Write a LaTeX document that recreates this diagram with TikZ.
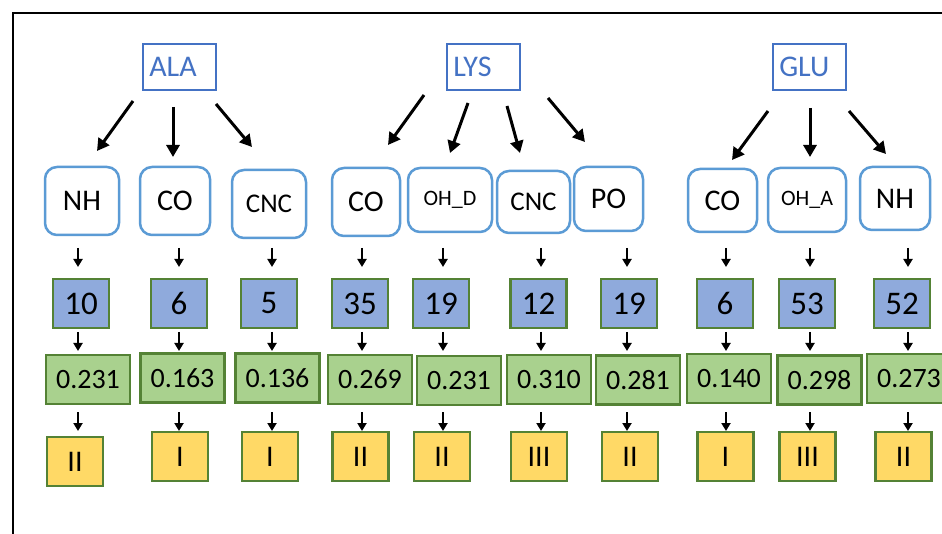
\documentclass[tikz,border=0pt]{standalone}
\usepackage{fontspec}
\setmainfont{Carlito}
\usetikzlibrary{arrows.meta}
\definecolor{topblue}{HTML}{4472C4}
\definecolor{roundblue}{HTML}{5B9BD5}
\definecolor{numfill}{HTML}{8FAADC}
\definecolor{valfill}{HTML}{A9D18E}
\definecolor{romfill}{HTML}{FFD966}
\definecolor{boxgreen}{HTML}{548235}
\tikzset{
  topbox/.style={draw=topblue, line width=1.5pt, text=topblue, minimum height=46pt,
    text width=60pt, align=left, inner xsep=6.5pt, font=\fontsize{30}{34}\selectfont},
  grpbox/.style={draw=roundblue, line width=2.5pt, fill=white, rounded corners=12pt,
    inner sep=0pt},
  bigtxt/.style={font=\fontsize{30}{34}\selectfont},
  midtxt/.style={font=\fontsize{27}{31}\selectfont},
  smltxt/.style={font=\fontsize{22}{26}\selectfont},
  numbox/.style={fill=numfill, draw=boxgreen, line width=2.5pt, minimum width=56pt,
    minimum height=49pt, inner sep=0pt, font=\fontsize{33}{36}\selectfont},
  valbox/.style={fill=valfill, draw=boxgreen, line width=2.5pt, minimum width=84pt,
    minimum height=49pt, inner sep=0pt, font=\fontsize{28}{32}\selectfont},
  rombox/.style={fill=romfill, draw=boxgreen, line width=2.5pt, minimum width=56pt,
    minimum height=49pt, inner sep=0pt, font=\fontsize{30}{34}\selectfont},
  bigarrow/.style={line width=3pt, -{Triangle[length=12pt,width=13pt]}},
  smallarrow/.style={line width=2pt, -{Triangle[length=8pt,width=9pt]}},
}
\begin{document}
\begin{tikzpicture}[x=1pt,y=-1pt]
\useasboundingbox (0,0) rectangle (942,534);
\clip (0,0) rectangle (942,534);
\fill[white] (0,0) rectangle (942,534);
\draw[line width=2pt] (12.5,13) rectangle (1000,600);

% top boxes
\node[topbox] (ala) at (179.3,67) {ALA};
\node[topbox] (lys) at (483.3,67) {LYS};
\node[topbox] (glu) at (809.3,67) {GLU};

% group boxes
\node[grpbox, bigtxt, minimum width=74pt, minimum height=68pt] (g1) at (82,201) {NH};
\node[grpbox, bigtxt, minimum width=70pt, minimum height=68pt] (g2) at (175,201) {CO};
\node[grpbox, midtxt, minimum width=74pt, minimum height=68pt] (g3) at (269,204) {CNC};
\node[grpbox, bigtxt, minimum width=68pt, minimum height=68pt] (g4) at (366,202) {CO};
\node[grpbox, smltxt, minimum width=84pt, minimum height=64pt] (g5) at (450,200) {OH\_D};
\node[grpbox, midtxt, minimum width=73pt, minimum height=62pt] (g6) at (533.5,202) {CNC};
\node[grpbox, bigtxt, minimum width=69pt, minimum height=64pt] (g7) at (608.5,199) {PO};
\node[grpbox, bigtxt, minimum width=69pt, minimum height=63pt] (g8) at (722.5,200.5) {CO};
\node[grpbox, smltxt, minimum width=78pt, minimum height=64pt] (g9) at (807,200) {OH\_A};
\node[grpbox, bigtxt, minimum width=70pt, minimum height=63pt] (g10) at (895,198.5) {NH};

% number boxes
\node[numbox] (n1) at (81,303.5) {10};
\node[numbox] (n2) at (179,303.5) {6};
\node[numbox] (n3) at (269,303.5) {5};
\node[numbox] (n4) at (360,303.5) {35};
\node[numbox] (n5) at (441,303.5) {19};
\node[numbox] (n6) at (538.5,303.5) {12};
\node[numbox] (n7) at (629,303.5) {19};
\node[numbox] (n8) at (725,303.5) {6};
\node[numbox] (n9) at (807,303.5) {53};
\node[numbox] (n10) at (902,303.5) {52};

% value boxes
\node[valbox] (v1) at (88,379.5) {0.231};
\node[valbox] (v2) at (182.5,378) {0.163};
\node[valbox] (v3) at (277.5,378) {0.136};
\node[valbox] (v4) at (370,379.5) {0.269};
\node[valbox] (v5) at (459,380.5) {0.231};
\node[valbox] (v6) at (549,379.5) {0.310};
\node[valbox] (v7) at (638,380) {0.281};
\node[valbox] (v8) at (729,378.5) {0.140};
\node[valbox] (v9) at (819.5,380) {0.298};
\node[valbox] (v10) at (909,378.5) {0.273};

% roman boxes
\node[rombox] (r1) at (75,461.5) {II};
\node[rombox] (r2) at (180,456.5) {I};
\node[rombox] (r3) at (270,456.5) {I};
\node[rombox] (r4) at (360.5,456.5) {II};
\node[rombox] (r5) at (442,456.5) {II};
\node[rombox] (r6) at (539,456.5) {III};
\node[rombox] (r7) at (630,456.5) {II};
\node[rombox] (r8) at (725.5,456.5) {I};
\node[rombox] (r9) at (807.5,456.5) {III};
\node[rombox] (r10) at (903.5,456.5) {II};

% big arrows
\coordinate (a1s) at (133,101); \coordinate (a1e) at (97,151);
\coordinate (a2s) at (173,107); \coordinate (a2e) at (173,157);
\coordinate (a3s) at (216,104); \coordinate (a3e) at (252,147);
\coordinate (a4s) at (424,95);  \coordinate (a4e) at (388,145);
\coordinate (a5s) at (468,103); \coordinate (a5e) at (450,153);
\coordinate (a6s) at (507,106); \coordinate (a6e) at (520,153);
\coordinate (a7s) at (548,98);  \coordinate (a7e) at (585,142);
\coordinate (a8s) at (768,111); \coordinate (a8e) at (732,160);
\coordinate (a9s) at (810,108); \coordinate (a9e) at (810,157);
\coordinate (a10s) at (849,111); \coordinate (a10e) at (886,154);
\foreach \i in {1,...,10} {\draw[bigarrow] (a\i s) -- (a\i e);}

% small arrows
\foreach \x [count=\i] in {78,179,272,362,443,541,627,726,810,908} {
  \coordinate (p\i a) at (\x,248); \coordinate (p\i b) at (\x,267);
  \coordinate (q\i a) at (\x,332); \coordinate (q\i b) at (\x,351);
  \coordinate (s\i a) at (\x,412); \coordinate (s\i b) at (\x,431);
  \draw[smallarrow] (p\i a) -- (p\i b);
  \draw[smallarrow] (q\i a) -- (q\i b);
  \draw[smallarrow] (s\i a) -- (s\i b);
}
\end{tikzpicture}
\end{document}
